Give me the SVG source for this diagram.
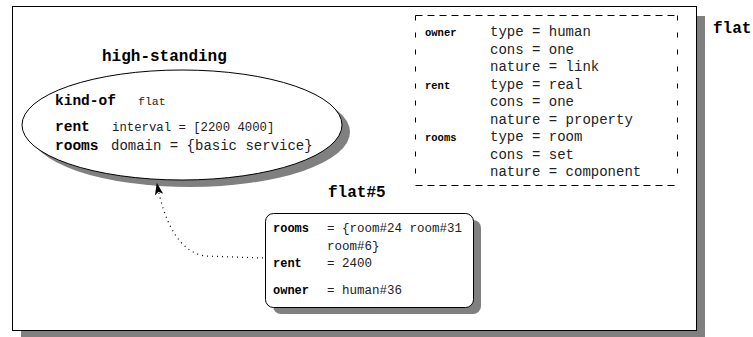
<svg xmlns="http://www.w3.org/2000/svg" width="753" height="337" viewBox="0 0 753 337">
<defs>
<style>
.t{font-family:"Liberation Mono","Courier New",monospace;fill:#222}
.b{font-family:"Liberation Mono","Courier New",monospace;font-weight:bold;fill:#000}
.sh{fill:#808080}
.dh{stroke:#000;stroke-width:1;stroke-dasharray:7 5;fill:none}
.dv{stroke:#000;stroke-width:1;stroke-dasharray:5 12;fill:none}
</style>
<marker id="ah" viewBox="0 0 10 10" refX="9" refY="5" markerWidth="12" markerHeight="12" markerUnits="userSpaceOnUse" orient="auto">
<path d="M0,1.5 L10,5 L0,8.5 L2.5,5 Z" fill="#000"/>
</marker>
</defs>
<rect width="753" height="337" fill="#fff"/>
<g id="frame">
<rect class="sh" x="21" y="16" width="684" height="321"/>
<rect x="12.5" y="6.5" width="684" height="324" fill="#fff" stroke="#000" stroke-width="1"/>
<text class="b" x="713" y="33" font-size="16">flat</text>
</g>
<g id="flat-class">
<line class="dh" x1="415.5" y1="15.5" x2="677.5" y2="15.5"/>
<line class="dh" x1="415.5" y1="185.5" x2="677.5" y2="185.5"/>
<line class="dv" x1="415.5" y1="15.5" x2="415.5" y2="185.5"/>
<line class="dv" x1="677.5" y1="15.5" x2="677.5" y2="185.5"/>
<text class="b" x="425" y="36" font-size="10.5">owner</text>
<text class="t" x="490" y="36" font-size="14">type = human</text>
<text class="t" x="490" y="53.5" font-size="14">cons = one</text>
<text class="t" x="490" y="71" font-size="14">nature = link</text>
<text class="b" x="425" y="88.5" font-size="10.5">rent</text>
<text class="t" x="490" y="88.5" font-size="14">type = real</text>
<text class="t" x="490" y="106" font-size="14">cons = one</text>
<text class="t" x="490" y="123.5" font-size="14">nature = property</text>
<text class="b" x="425" y="141" font-size="10.5">rooms</text>
<text class="t" x="490" y="141" font-size="14">type = room</text>
<text class="t" x="490" y="158.5" font-size="14">cons = set</text>
<text class="t" x="490" y="176" font-size="14">nature = component</text>
</g>
<g id="high-standing">
<text class="b" x="102" y="61" font-size="16">high-standing</text>
<ellipse class="sh" cx="190" cy="132" rx="160" ry="55"/>
<ellipse cx="182" cy="125" rx="160" ry="55" fill="#fff" stroke="#000" stroke-width="1"/>
<text class="b" x="55" y="105" font-size="14.5">kind-of</text>
<text class="t" x="138" y="105" font-size="11.5">flat</text>
<text class="b" x="55" y="131" font-size="14.5">rent</text>
<text class="t" x="112" y="131" font-size="12.3">interval = [2200 4000]</text>
<text class="b" x="55" y="150" font-size="14.5">rooms</text>
<text class="t" x="111" y="150" font-size="14">domain = {basic service}</text>
</g>
<g id="flat5">
<text class="b" x="328" y="197" font-size="16">flat#5</text>
<rect class="sh" x="273" y="220" width="208" height="94" rx="8"/>
<rect x="265.5" y="213.5" width="208" height="94" rx="8" fill="#fff" stroke="#000" stroke-width="1"/>
<text class="b" x="273" y="232" font-size="12">rooms</text>
<text class="t" x="327" y="232" font-size="12.5">= {room#24 room#31</text>
<text class="t" x="327" y="250" font-size="12.5">  room#6}</text>
<text class="b" x="273" y="267" font-size="12">rent</text>
<text class="t" x="327" y="267" font-size="12.5">= 2400</text>
<text class="b" x="273" y="294" font-size="12">owner</text>
<text class="t" x="327" y="294" font-size="12.5">= human#36</text>
</g>
<g id="connectors">
<path d="M263,258 L205,256 C180,252 165,225 157,184" fill="none" stroke="#000" stroke-width="1.2" stroke-dasharray="1 4" marker-end="url(#ah)"/>
</g>
</svg>
